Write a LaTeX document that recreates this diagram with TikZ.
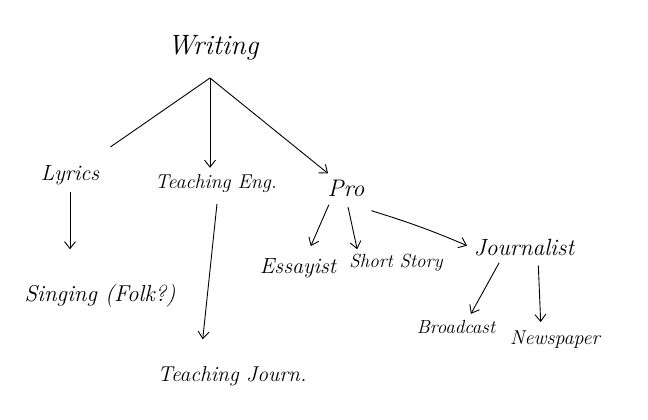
\documentclass[tikz,border=0pt]{standalone}
\usepackage{amsmath}
\usepackage{tikz}
\usetikzlibrary{arrows.meta}

\tikzset{
    idea/.style={font=\fontsize{20}{24}\selectfont\itshape, inner sep=1pt},
    arr/.style={line width=0.9pt, -{Straight Barb[length=7pt,width=11pt]}},
    plain/.style={line width=0.9pt}
}

\begin{document}
\begin{tikzpicture}[x=1pt,y=-1pt]
    \useasboundingbox (0,0) rectangle (648,420);

    % Root
    \node[idea, font=\fontsize{28}{32}\selectfont\itshape] (writing) at (213,48) {Writing};
    \coordinate (apex) at (210,78);

    % First level
    \node[idea, font=\fontsize{22}{26}\selectfont\itshape] (lyrics) at (70,175) {Lyrics};
    \node[idea] (teng) at (216,184) {Teaching Eng.};
    \node[idea, font=\fontsize{24}{28}\selectfont\itshape] (pro) at (346,188) {Pro};

    % Second level
    \node[idea, font=\fontsize{23}{27}\selectfont\itshape] (singing) at (100,296) {Singing (Folk?)};
    \node[idea, font=\fontsize{21.5}{26}\selectfont\itshape] (tjourn) at (232,376) {Teaching Journ.};
    \node[idea, font=\fontsize{22}{26}\selectfont\itshape] (essay) at (298,268) {Essayist};
    \node[idea, font=\fontsize{19}{23}\selectfont\itshape] (story) at (396,263) {Short Story};
    \node[idea, font=\fontsize{23.5}{28}\selectfont\itshape] (journ) at (524,248) {Journalist};

    % Third level
    \node[idea, font=\fontsize{19}{23}\selectfont\itshape] (broad) at (456,327) {Broadcast};
    \node[idea] (news) at (555,340) {Newspaper};

    % Connectors
    \draw[plain, shorten >=30pt] (apex) -- (lyrics);
    \draw[arr, shorten >=6pt] (apex) -- (apex |- teng.north);
    \draw[arr, shorten >=8pt] (apex) -- (pro);
    \draw[arr, shorten <=6pt, shorten >=34pt] (lyrics.south) -- (lyrics.south |- singing.north);
    \draw[arr, shorten <=10pt, shorten >=26pt] ([xshift=2pt]teng.south) -- ([xshift=-32pt]tjourn.north);
    \draw[arr, shorten <=8pt, shorten >=12pt] ([xshift=-14pt]pro.south) -- ([xshift=8pt]essay.north);
    \draw[arr, shorten <=10pt, shorten >=4pt] (pro.south) -- ([xshift=-38pt]story.north);
    \draw[arr, shorten <=4pt, shorten >=6pt] ([yshift=-12pt,xshift=2pt]pro.south east) to[bend left=3] (journ.west);
    \draw[arr, shorten <=6pt, shorten >=6pt] ([xshift=-22pt]journ.south) -- ([xshift=12pt]broad.north);
    \draw[arr, shorten <=8pt, shorten >=8pt] ([xshift=14pt]journ.south) -- ([xshift=-14pt]news.north);
\end{tikzpicture}
\end{document}
